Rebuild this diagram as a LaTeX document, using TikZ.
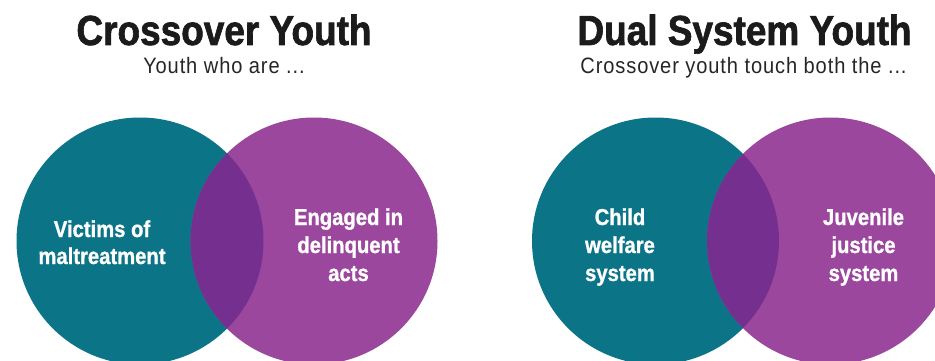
\documentclass[tikz,border=0pt]{standalone}
\usepackage{fontspec}
\setmainfont{Liberation Sans}
\newfontfamily\condfont{Liberation Sans}[FakeStretch=0.88, BoldFeatures={FakeBold=1.5}]
\newfontfamily\bodyfont{Liberation Sans}[FakeStretch=0.88, BoldFeatures={FakeBold=1}]
\newfontfamily\subfont{Liberation Sans}[FakeStretch=0.9, LetterSpace=4]
\definecolor{tealc}{HTML}{0B7486}
\definecolor{purplec}{HTML}{9A479D}
\definecolor{lensc}{HTML}{75308F}
\definecolor{titlec}{HTML}{1B1B1B}
\definecolor{subc}{HTML}{262626}
\tikzset{
  titletext/.style={anchor=base, inner sep=0pt, text=titlec, font=\condfont\bfseries\fontsize{42}{42}\selectfont},
  subtext/.style={anchor=base, inner sep=0pt, text=subc, font=\subfont\fontsize{22.3}{22.3}\selectfont},
  circtext/.style={anchor=base, inner sep=0pt, text=white, font=\bodyfont\bfseries\fontsize{23}{23}\selectfont},
}
\begin{document}
\begin{tikzpicture}[x=1pt, y=-1pt]
\useasboundingbox (0,0) rectangle (935,361);
\fill[white] (0,0) rectangle (935,361);
\begin{scope}
\clip (0,0) rectangle (935,361);
% left panel
\fill[tealc] (140,241) circle (123.5pt);
\fill[purplec] (314,241) circle (123.5pt);
\begin{scope}
\clip (140,241) circle (123.5pt);
\fill[lensc] (314,241) circle (123.5pt);
\end{scope}
% right panel
\fill[tealc] (655.5,241) circle (123.5pt);
\fill[purplec] (830.5,241) circle (123.5pt);
\begin{scope}
\clip (655.5,241) circle (123.5pt);
\fill[lensc] (830.5,241) circle (123.5pt);
\end{scope}
\end{scope}
% titles
\node[titletext] (t1) at (224,45) {Crossover Youth};
\node[subtext] (s1) at (224,74) {Youth who are ...};
\node[titletext] (t2) at (744.5,45) {Dual System Youth};
\node[subtext] (s2) at (743.5,74) {Crossover youth touch both the ...};
% circle labels
\node[circtext] (a1) at (102,237) {Victims of};
\node[circtext] (a2) at (102,264) {maltreatment};
\node[circtext] (b1) at (348.5,225) {Engaged in};
\node[circtext] (b2) at (348.5,253) {delinquent};
\node[circtext] (b3) at (348.5,281) {acts};
\node[circtext] (c1) at (620,225) {Child};
\node[circtext] (c2) at (620,253) {welfare};
\node[circtext] (c3) at (620,281) {system};
\node[circtext] (d1) at (863.5,225) {Juvenile};
\node[circtext] (d2) at (863.5,253) {justice};
\node[circtext] (d3) at (863.5,281) {system};
\end{tikzpicture}
\end{document}
